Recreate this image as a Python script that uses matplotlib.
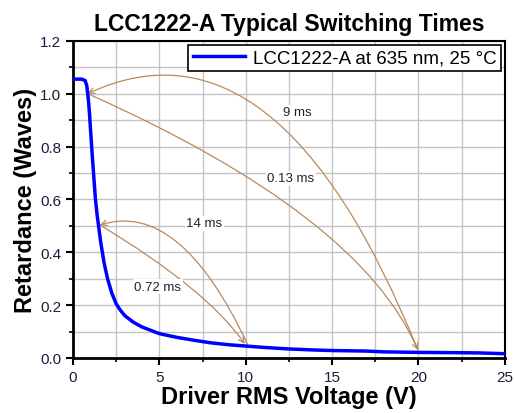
import matplotlib
matplotlib.use("Agg")
import matplotlib.pyplot as plt
from matplotlib.ticker import MultipleLocator

plt.rcParams['font.family'] = ['Liberation Sans', 'DejaVu Sans']

# retardance curve
voltage = [0.0, 0.5, 0.7, 0.8, 0.85, 0.9, 0.95, 1.0, 1.05, 1.1, 1.2, 1.3, 1.4, 1.5, 1.6, 1.8,
           2.0, 2.25, 2.5, 2.75, 3.0, 3.5, 4.0, 5.0, 6.0, 7.0, 7.5, 8.0, 9.0, 10.0, 11.0,
           12.5, 14.0, 15.0, 17.0, 18.0, 20.0, 22.0, 23.5, 25.0]
retardance = [1.055, 1.055, 1.05, 1.03, 1.0, 0.97, 0.93, 0.88, 0.83, 0.78, 0.69, 0.6, 0.54,
              0.49, 0.44, 0.36, 0.3, 0.245, 0.205, 0.18, 0.16, 0.135, 0.117, 0.092, 0.078,
              0.067, 0.062, 0.057, 0.05, 0.045, 0.04, 0.034, 0.03, 0.028, 0.026, 0.023,
              0.021, 0.02, 0.019, 0.016]

# switching-time annotations: (label, tail, head, angleA, angleB, text position)
arrows = [
    ("9 ms", (19.97, 0.03), (0.85, 1.0), 112, 25, (13.0, 0.93)),
    ("0.13 ms", (0.85, 1.0), (19.97, 0.03), -24, -66.8, (12.6, 0.68)),
    ("14 ms", (10.14, 0.047), (1.56, 0.503), 115, 17.5, (7.6, 0.51)),
    ("0.72 ms", (1.56, 0.503), (9.95, 0.053), -31, -55, (4.9, 0.27)),
]

fig = plt.figure(figsize=(5.14, 4.14), dpi=100)
ax = fig.add_axes([0.142, 0.133, 0.840, 0.766])

ax.plot(voltage, retardance, color='#0000ff', lw=2.5,
        label='LCC1222-A at 635 nm, 25 °C', zorder=3)

arrow_color = '#b98a5c'
for label, tail, head, angA, angB, tpos in arrows:
    ax.annotate('', xy=head, xytext=tail,
                arrowprops=dict(arrowstyle='->', color=arrow_color, lw=0.9,
                                shrinkA=0, shrinkB=0,
                                connectionstyle='angle3,angleA=%g,angleB=%g' % (angA, angB)),
                zorder=2)
    ax.text(tpos[0], tpos[1], label, fontsize=9.5, color='#222222', ha='center', va='center',
            bbox=dict(facecolor='white', edgecolor='none', pad=1), zorder=2.5)

ax.set_xlim(0, 25)
ax.set_ylim(0, 1.2)
ax.xaxis.set_major_locator(MultipleLocator(5))
ax.xaxis.set_minor_locator(MultipleLocator(2.5))
ax.yaxis.set_major_locator(MultipleLocator(0.2))
ax.yaxis.set_minor_locator(MultipleLocator(0.1))
ax.yaxis.set_major_formatter(matplotlib.ticker.FormatStrFormatter('%.1f'))
ax.grid(True, which='major', color='#c4c4c4', lw=1.0, zorder=0)
ax.grid(True, which='minor', color='#c4c4c4', lw=1.0, zorder=0)
ax.set_axisbelow(True)
ax.tick_params(which='major', direction='out', length=5, width=1.5, labelsize=11,
               labelcolor='#1c1c3c')
ax.tick_params(which='minor', direction='out', length=3, width=1.2)
for side in ['left', 'bottom']:
    ax.spines[side].set_linewidth(2)
for side in ['top', 'right']:
    ax.spines[side].set_linewidth(1.5)

ax.set_title('LCC1222-A Typical Switching Times', fontsize=16.5, fontweight='bold', pad=8)
ax.set_xlabel('Driver RMS Voltage (V)', fontsize=17, fontweight='bold', labelpad=1)
ax.set_ylabel('Retardance (Waves)', fontsize=17, fontweight='bold', labelpad=2)

leg = ax.legend(loc='upper right', fontsize=13.5, handlelength=2.8, handletextpad=0.4,
                fancybox=False, framealpha=1, edgecolor='black', borderaxespad=0.2,
                borderpad=0.25)
leg.get_frame().set_linewidth(1.2)

fig.savefig('out.png', dpi=100)
